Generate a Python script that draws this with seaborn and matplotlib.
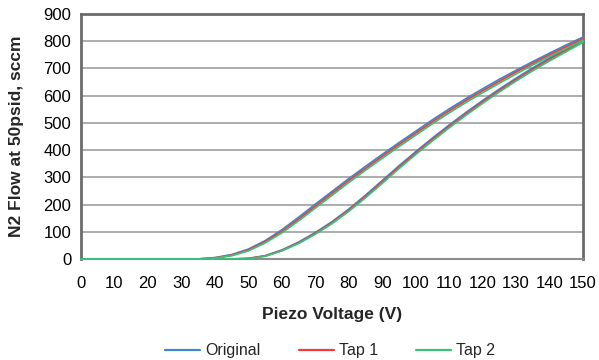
import numpy as np
import pandas as pd
import matplotlib
matplotlib.use("Agg")
import matplotlib.pyplot as plt
import seaborn as sns
from matplotlib.lines import Line2D

# Voltage grid for each branch (V)
volts = [0, 5, 10, 15, 20, 25, 30, 35, 40, 45, 50, 55, 60, 65, 70, 75, 80, 85, 90, 95,
         100, 105, 110, 115, 120, 125, 130, 135, 140, 145, 150]

# Upper branch flows (sccm)
orig_upper = [0, 0, 0, 0, 0, 0, 0, 0, 5, 16, 36, 67, 107, 153, 201, 248, 295, 340, 384, 427,
              469, 511, 551, 589, 625, 660, 693, 725, 756, 786, 815]
tap1_upper = [0, 0, 0, 0, 0, 0, 0, 0, 4, 14, 33, 63, 101, 146, 194, 241, 288, 333, 377, 420,
              462, 504, 544, 582, 618, 653, 687, 719, 750, 780, 809]
tap2_upper = [0, 0, 0, 0, 0, 0, 0, 0, 3, 12, 30, 59, 96, 140, 187, 234, 281, 326, 370, 413,
              455, 497, 537, 575, 611, 646, 680, 713, 744, 774, 803]

# Lower branch flows (sccm)
orig_lower = [0, 0, 0, 0, 0, 0, 0, 0, 0, 0, 2, 12, 33, 62, 97, 137, 183, 234, 288, 342,
              394, 444, 492, 538, 582, 624, 664, 702, 738, 772, 805]
tap1_lower = [0, 0, 0, 0, 0, 0, 0, 0, 0, 0, 2, 11, 31, 59, 94, 133, 179, 229, 283, 337,
              389, 439, 487, 533, 577, 619, 659, 697, 733, 767, 800]
tap2_lower = [0, 0, 0, 0, 0, 0, 0, 0, 0, 0, 1, 10, 30, 57, 91, 130, 175, 225, 278, 332,
              384, 434, 482, 528, 572, 614, 654, 692, 728, 762, 796]

series_names = ["Original", "Tap 1", "Tap 2"]
colors = ["#3f86cf", "#f03c3c", "#3cbf78"]

rows = []
for name, up, lo in zip(series_names,
                        [orig_upper, tap1_upper, tap2_upper],
                        [orig_lower, tap1_lower, tap2_lower]):
    for v, f in zip(volts, lo):
        rows.append((name, v, f))
    for v, f in zip(volts[::-1], up[::-1]):
        rows.append((name, v, f))
df = pd.DataFrame(rows, columns=["series", "V", "flow"])

sns.set_style("white")
plt.rcParams["font.family"] = ["Liberation Sans", "DejaVu Sans"]

fig = plt.figure(figsize=(5.99, 3.60), dpi=100)
ax = fig.add_axes([81 / 599, 1 - 259 / 360, (583 - 81) / 599, (259 - 14) / 360])

sns.lineplot(data=df, x="V", y="flow", hue="series",
             estimator=None, sort=False, palette=dict(zip(series_names, colors)),
             hue_order=series_names, linewidth=1.3, ax=ax, legend=False)
for ln in ax.get_lines():
    ln.set_clip_on(False)
    ln.set_zorder(3)
    ln.set_solid_joinstyle("round")

ax.set_xlim(0, 150)
ax.set_ylim(0, 900)
ax.set_xticks(np.arange(0, 151, 10))
ax.set_yticks(np.arange(0, 901, 100))
ax.yaxis.grid(True, color="#a6a6a6", linewidth=1.3)
ax.set_axisbelow(True)
for side in ["top", "right", "left"]:
    ax.spines[side].set_color("#6b6b6b")
    ax.spines[side].set_linewidth(2)
ax.spines["bottom"].set_color("#8c8c8c")
ax.spines["bottom"].set_linewidth(1.5)
ax.tick_params(axis="both", labelsize=12, colors="#000000", length=4,
               width=1, direction="out")
ax.tick_params(axis="x", color="#8c8c8c", length=5, pad=7)
ax.tick_params(axis="y", color="#6b6b6b", length=3, pad=4)

ax.set_xlabel("Piezo Voltage (V)", fontsize=12.5, fontweight="bold", labelpad=12)
ax.set_ylabel("N2 Flow at 50psid, sccm", fontsize=12.5, fontweight="bold", labelpad=14)

handles = [Line2D([0], [0], color=c, linewidth=1.6) for c in colors]
fig.legend(handles, series_names, loc="center", bbox_to_anchor=(0.551, 1 - 351 / 360),
           ncol=3, frameon=False, fontsize=11.5, handlelength=2.2, columnspacing=2.4,
           handletextpad=0.3)

fig.savefig("out.png", dpi=100)
